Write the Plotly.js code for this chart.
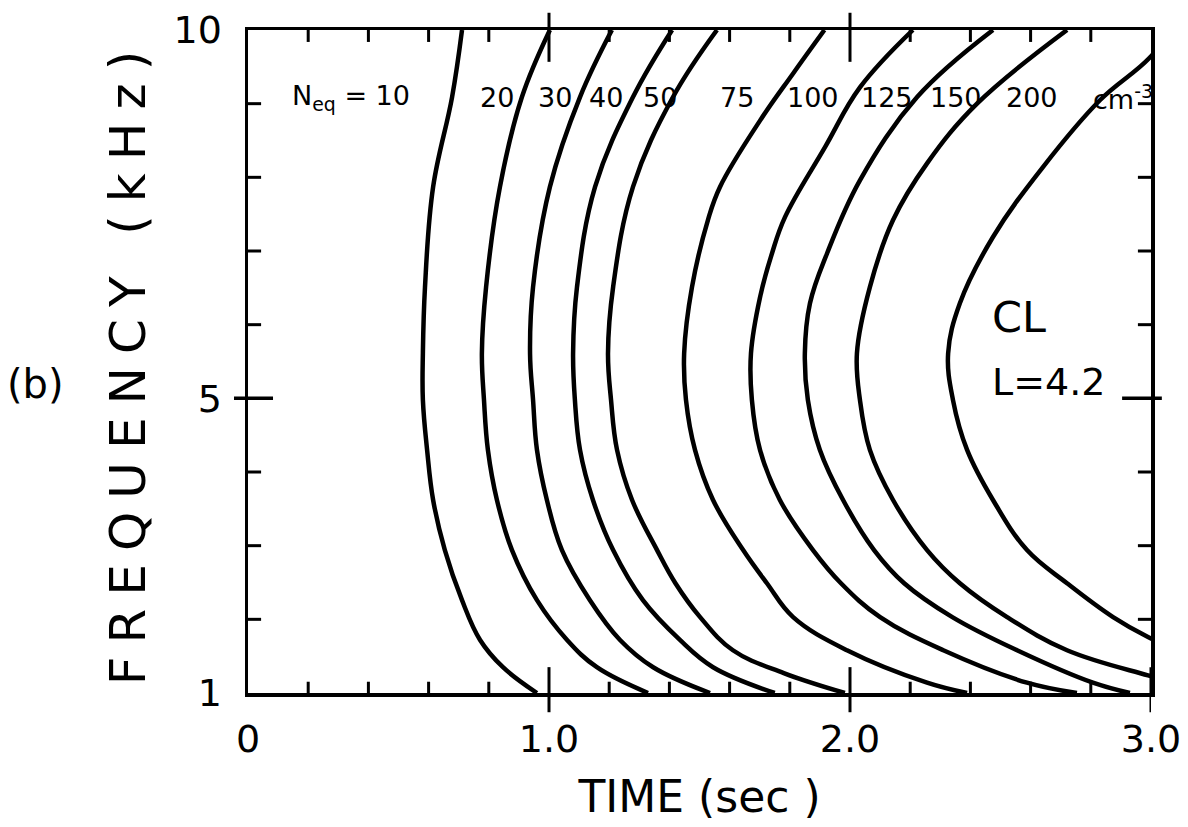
<!DOCTYPE html>
<html>
<head>
<meta charset="utf-8">
<script src="https://cdn.plot.ly/plotly-3.0.1.min.js"></script>
<style>html,body{margin:0;padding:0;background:#fff;}</style>
</head>
<body>
<div id="chart" style="width:1188px;height:827px;"></div>
<script>
// Density labels (N_eq, cm^-3), one per curve
const densityLabels = ["10", "20", "30", "40", "50", "75", "100", "125", "150", "200"];
// Label x-positions (sec) along the top of the panel, for labels 20..200
const labelTimes = [0.827, 1.020, 1.189, 1.369, 1.625, 1.877, 2.123, 2.352, 2.605];

// Frequency samples (kHz) shared by curves 10..40
const freqA = [10, 9.09, 7.87, 6.51, 5.61, 4.98, 4.30, 3.62, 2.94, 2.26, 1.72, 1.35, 1.0];
const time10 = [0.711, 0.678, 0.615, 0.588, 0.581, 0.581, 0.595, 0.615, 0.654, 0.711, 0.771, 0.847, 0.960];
const time20 = [1.003, 0.910, 0.837, 0.791, 0.777, 0.784, 0.797, 0.827, 0.877, 0.960, 1.060, 1.159, 1.329];
const time30 = [1.209, 1.103, 1.003, 0.947, 0.937, 0.947, 0.960, 0.993, 1.043, 1.136, 1.236, 1.346, 1.535];
const time40 = [1.409, 1.279, 1.153, 1.093, 1.080, 1.086, 1.103, 1.146, 1.213, 1.312, 1.435, 1.545, 1.750];

const freq50 = [10, 9.09, 7.87, 6.51, 5.61, 4.98, 4.30, 3.62, 2.94, 2.49, 2.03, 1.58, 1.27, 1.0];
const time50 = [1.558, 1.412, 1.279, 1.213, 1.196, 1.206, 1.226, 1.276, 1.359, 1.420, 1.502, 1.611, 1.780, 1.983];

const freq75 = [10, 9.41, 8.77, 7.87, 7.42, 6.51, 5.61, 4.98, 4.30, 3.62, 2.94, 2.49, 2.03, 1.58, 1.14, 1.0];
const time75 = [1.915, 1.811, 1.701, 1.568, 1.528, 1.475, 1.449, 1.455, 1.485, 1.545, 1.645, 1.724, 1.811, 1.990, 2.256, 2.389];

const freq100 = [10, 9.22, 8.41, 7.46, 6.97, 6.37, 5.61, 4.98, 4.30, 3.62, 2.94, 2.49, 2.03, 1.58, 1.14, 1.0];
const time100 = [2.209, 2.033, 1.917, 1.784, 1.741, 1.701, 1.671, 1.674, 1.701, 1.767, 1.877, 1.970, 2.100, 2.310, 2.588, 2.754];

const freq125 = [10, 9.09, 7.96, 6.97, 6.29, 5.61, 4.98, 4.30, 3.62, 2.94, 2.49, 2.03, 1.58, 1.14, 1.0];
const time125 = [2.475, 2.223, 2.033, 1.924, 1.867, 1.850, 1.860, 1.900, 1.977, 2.080, 2.180, 2.340, 2.555, 2.807, 2.930];

const freq150 = [10, 9.0, 8.19, 7.42, 6.51, 5.61, 4.98, 4.30, 3.62, 2.94, 2.49, 2.03, 1.58, 1.24, 1.1];
const time150 = [2.721, 2.422, 2.256, 2.143, 2.066, 2.023, 2.033, 2.066, 2.143, 2.256, 2.365, 2.522, 2.721, 2.990, 3.12];

const freq200 = [10.2, 9.63, 9.05, 8.14, 7.19, 6.29, 5.61, 4.98, 4.30, 3.62, 2.94, 2.49, 2.03, 1.76, 1.6];
const time200 = [3.10, 2.997, 2.831, 2.641, 2.475, 2.365, 2.326, 2.342, 2.389, 2.475, 2.588, 2.721, 2.874, 2.990, 3.08];

const curveTimes = [time10, time20, time30, time40, time50, time75, time100, time125, time150, time200];
const curveFreqs = [freqA, freqA, freqA, freqA, freq50, freq75, freq100, freq125, freq150, freq200];

// Axis tick labels
const xTickVals = [0, 1, 2, 3];
const xTickText = ["0", "1.0", "2.0", "3.0"];
const yTickVals = [1, 5, 10];
const yTickText = ["1", "5", "10"];
// Small inside tick marks on all four sides
const xMinorTicks = [0.2, 0.4, 0.6, 0.8, 1.2, 1.4, 1.6, 1.8, 2.2, 2.4, 2.6, 2.8];
const yMinorTicks = [2, 3, 4, 6, 7, 8, 9];
// Long crossing tick marks
const xMajorTop = [1, 2];
const xMajorBottom = [1, 2, 3];
const yMajor = [5];

const FONT = "DejaVu Sans, Arial, sans-serif";

const traces = curveTimes.map((t, i) => ({
  x: t,
  y: curveFreqs[i],
  type: "scatter",
  mode: "lines",
  name: densityLabels[i],
  line: {color: "black", width: 4.5, shape: "spline", smoothing: 1.1},
  hoverinfo: "x+y+name"
}));

const annotations = [];
annotations.push({
  x: 0.14, y: 9.09, xref: "x", yref: "y", xanchor: "left", yanchor: "middle",
  text: "N<sub>eq</sub> = " + densityLabels[0], showarrow: false,
  font: {family: FONT, size: 27, color: "black"}
});
for (let i = 1; i < densityLabels.length; i++) {
  annotations.push({
    x: labelTimes[i - 1], y: 9.09, xref: "x", yref: "y", xanchor: "center", yanchor: "middle",
    text: densityLabels[i], showarrow: false,
    font: {family: FONT, size: 27, color: "black"}
  });
}
annotations.push({
  x: 2.907, y: 9.09, xref: "x", yref: "y", xanchor: "center", yanchor: "middle",
  text: "cm<sup>-3</sup>", showarrow: false, font: {family: FONT, size: 27, color: "black"}
});
annotations.push({
  x: 2.465, y: 6.10, xref: "x", yref: "y", xanchor: "left", yanchor: "middle",
  text: "CL", showarrow: false, font: {family: FONT, size: 43, color: "black"}
});
annotations.push({
  x: 2.465, y: 5.22, xref: "x", yref: "y", xanchor: "left", yanchor: "middle",
  text: "L=4.2", showarrow: false, font: {family: FONT, size: 38, color: "black"}
});
annotations.push({
  x: -0.235, y: 0.466, xref: "paper", yref: "paper", xanchor: "center", yanchor: "middle",
  text: "(b)", showarrow: false, font: {family: FONT, size: 40, color: "black"}
});

const tickLine = {color: "black", width: 3};
const shapes = [];
xMinorTicks.forEach(v => {
  shapes.push({type: "line", xref: "x", yref: "paper", x0: v, x1: v, y0: 0, y1: 0.017, line: tickLine});
  shapes.push({type: "line", xref: "x", yref: "paper", x0: v, x1: v, y0: 1, y1: 0.982, line: tickLine});
});
yMinorTicks.forEach(v => {
  shapes.push({type: "line", xref: "paper", yref: "y", x0: 0, x1: 0.0145, y0: v, y1: v, line: tickLine});
  shapes.push({type: "line", xref: "paper", yref: "y", x0: 1, x1: 0.9855, y0: v, y1: v, line: tickLine});
});
xMajorTop.forEach(v => shapes.push({type: "line", xref: "x", yref: "paper", x0: v, x1: v, y0: 0.952, y1: 1.026, line: {color: "black", width: 3}}));
xMajorBottom.forEach(v => shapes.push({type: "line", xref: "x", yref: "paper", x0: v, x1: v, y0: -0.029, y1: 0.039, line: {color: "black", width: 3}}));
yMajor.forEach(v => {
  shapes.push({type: "line", xref: "paper", yref: "y", x0: -0.0155, x1: 0.0277, y0: v, y1: v, line: {color: "black", width: 3.5}});
  shapes.push({type: "line", xref: "paper", yref: "y", x0: 0.968, x1: 1.012, y0: v, y1: v, line: {color: "black", width: 3.5}});
});

const layout = {
  width: 1188, height: 827,
  margin: {l: 248, r: 37, t: 30, b: 134},
  paper_bgcolor: "white", plot_bgcolor: "white",
  showlegend: false,
  font: {family: FONT, color: "black"},
  xaxis: {
    range: [0, 3], tickmode: "array", tickvals: xTickVals, ticktext: xTickText,
    ticks: "", showgrid: false, zeroline: false,
    showline: true, linecolor: "black", linewidth: 3.5, mirror: true,
    tickfont: {family: FONT, size: 38, color: "black"},
    ticklabelstandoff: 10,
    title: {text: "TIME (sec )", font: {family: FONT, size: 44, color: "black"}, standoff: 22}
  },
  yaxis: {
    range: [1, 10], tickmode: "array", tickvals: yTickVals, ticktext: yTickText,
    ticks: "", showgrid: false, zeroline: false,
    showline: true, linecolor: "black", linewidth: 3.5, mirror: true,
    tickfont: {family: FONT, size: 38, color: "black"},
    ticklabelstandoff: 15,
    title: {text: "FREQUENCY (kHz)", font: {family: FONT, size: 50, color: "black"}, standoff: 13}
  },
  annotations: annotations,
  shapes: shapes
};

Plotly.newPlot("chart", traces, layout, {staticPlot: true}).then(() => {
  document.querySelectorAll(".ytitle").forEach(el => { el.style.letterSpacing = "13px"; });
});
</script>
</body>
</html>
